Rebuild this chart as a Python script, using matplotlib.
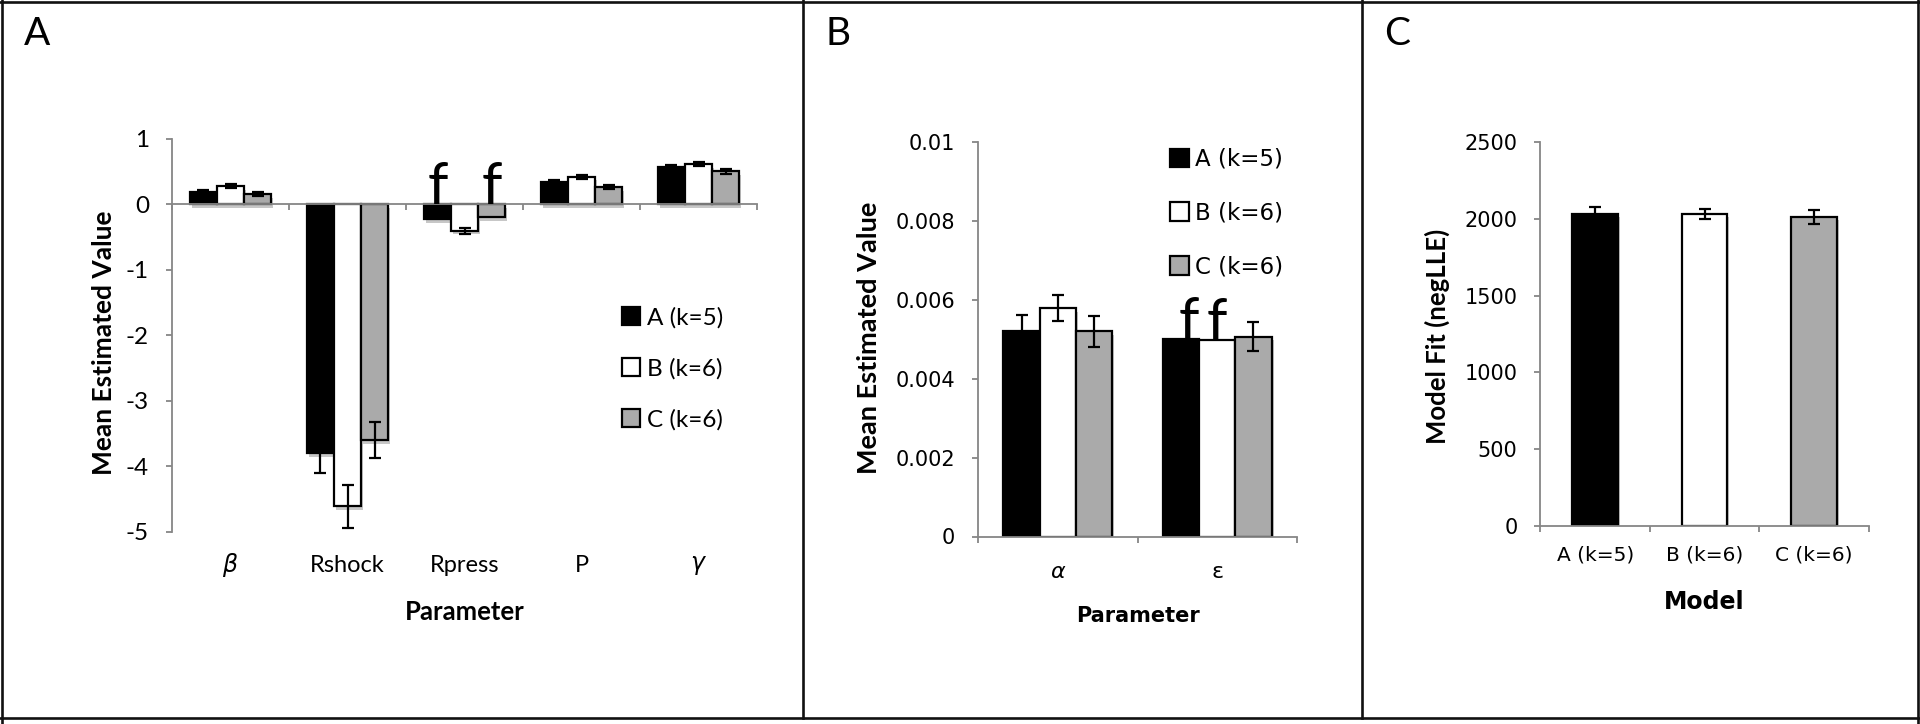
import numpy as np
import matplotlib
matplotlib.use('Agg')
import matplotlib.pyplot as plt
from matplotlib import patheffects as pe
from matplotlib.lines import Line2D
from matplotlib.patches import Patch
from matplotlib.transforms import blended_transform_factory

plt.rcParams['axes.unicode_minus'] = False

# ---------------- data ----------------
models = ['A (k=5)', 'B (k=6)', 'C (k=6)']
colors = ['#000000', '#ffffff', '#aaaaaa']

params_a = [r'$\beta$', 'Rshock', 'Rpress', 'P', r'$\gamma$']
a_mean_A = [0.19, -3.80, -0.23, 0.33, 0.56]
a_mean_B = [0.27, -4.61, -0.41, 0.42, 0.61]
a_mean_C = [0.15, -3.60, -0.20, 0.26, 0.50]
a_err_A = [0.03, 0.30, np.nan, 0.03, 0.03]
a_err_B = [0.03, 0.33, 0.04, 0.03, 0.03]
a_err_C = [0.03, 0.27, np.nan, 0.03, 0.04]
a_fixed = [(2, 0), (2, 2)]          # (parameter index, model index) marked 'f'
a_yticks = [-5, -4, -3, -2, -1, 0, 1]

params_b = [r'$\alpha$', 'ε']
b_mean_A = [0.00521, 0.00502]
b_mean_B = [0.00579, 0.00499]
b_mean_C = [0.00520, 0.00507]
b_err_A = [0.00040, np.nan]
b_err_B = [0.00033, np.nan]
b_err_C = [0.00040, 0.00036]
b_fixed = [(1, 0), (1, 1)]
b_yticks = [0, 0.002, 0.004, 0.006, 0.008, 0.01]
b_yticklabels = ['0', '0.002', '0.004', '0.006', '0.008', '0.01']

fit_mean = [2032, 2030, 2012]
fit_err = [45, 35, 45]
c_yticks = [0, 500, 1000, 1500, 2000, 2500]

# ---------------- style ----------------
W, H = 1920, 724
fig = plt.figure(figsize=(W / 100, H / 100), dpi=100)
AX_COL = '#868686'
NARROW = 'Lato'
WIDE = 'DejaVu Sans'
shadow = [pe.SimplePatchShadow(offset=(1.5, -2.5), shadow_rgbFace='#000000', alpha=0.22), pe.Normal()]


def px_axes(x0, x1, ytop, ybot):
    return fig.add_axes([x0 / W, 1 - ybot / H, (x1 - x0) / W, (ybot - ytop) / H])


def style_axes(ax, fontfamily, fontsize):
    for s in ('top', 'right'):
        ax.spines[s].set_visible(False)
    for s in ('left', 'bottom'):
        ax.spines[s].set_color(AX_COL)
        ax.spines[s].set_linewidth(1.3)
        ax.spines[s].set_zorder(4)
    ax.tick_params(axis='both', which='major', direction='out', length=4.5, width=1.3,
                   color=AX_COL, pad=12)
    ax.tick_params(axis='x', which='major', labelbottom=False)
    for lab in ax.get_yticklabels():
        lab.set_fontfamily(fontfamily)
        lab.set_fontsize(fontsize)


def grouped_bars(ax, means, errs, width):
    n = len(means[0])
    x = np.arange(n)
    offs = [-width, 0.0, width]
    for m in range(3):
        bars = ax.bar(x + offs[m], means[m], width, color=colors[m], edgecolor='black',
                      linewidth=1.6, zorder=2, label=models[m])
        for b in bars:
            b.set_path_effects(shadow)
        ax.errorbar(x + offs[m], means[m], yerr=errs[m], fmt='none', ecolor='black',
                    elinewidth=1.6, capsize=4.3, capthick=1.6, zorder=3)
    return x, offs


legend_handles = [Patch(facecolor=c, edgecolor='black', linewidth=1.6) for c in colors]

# ---------------- panel A ----------------
axA = px_axes(172, 757, 138.5, 532)
means_a = [a_mean_A, a_mean_B, a_mean_C]
xa, offa = grouped_bars(axA, means_a, [a_err_A, a_err_B, a_err_C], 0.231)
axA.set_xlim(-0.5, len(params_a) - 0.5)
axA.set_ylim(-5, 1)
axA.set_yticks(a_yticks)
axA.set_yticklabels([str(v) for v in a_yticks])
axA.set_xticks(np.arange(len(params_a) + 1) - 0.5)
axA.spines['bottom'].set_position(('data', 0))
style_axes(axA, NARROW, 17.5)
tr = blended_transform_factory(axA.transData, axA.transAxes)
for i, p in enumerate(params_a):
    axA.text(xa[i], -0.085, p, transform=tr, ha='center', va='center',
             fontsize=17, family=NARROW)
for (i, m) in a_fixed:
    axA.text(xa[i] + offa[m], 0, 'f', ha='center', va='baseline', fontsize=42,
             family=NARROW, zorder=5)
axA.set_ylabel('Mean Estimated Value', fontsize=19, fontweight='bold', family=NARROW, va='center')
axA.yaxis.set_label_coords(-0.1162, 0.480)
axA.set_xlabel('Parameter', fontsize=18.5, fontweight='bold', family=NARROW, va='center')
axA.xaxis.set_label_coords(0.5009, -0.203)
axA.legend(legend_handles, models, loc='upper left', bbox_to_anchor=(622 / W, 1 - 307 / H),
           bbox_transform=fig.transFigure, frameon=False, borderpad=0, borderaxespad=0,
           handlelength=0.74, handleheight=0.76, handletextpad=0.3, labelspacing=1.21,
           prop={'family': NARROW, 'size': 17.5})

# ---------------- panel B ----------------
axB = px_axes(978, 1297, 142.2, 536.5)
means_b = [b_mean_A, b_mean_B, b_mean_C]
xb, offb = grouped_bars(axB, means_b, [b_err_A, b_err_B, b_err_C], 0.227)
axB.set_xlim(-0.5, len(params_b) - 0.5)
axB.set_ylim(0, 0.01)
axB.set_yticks(b_yticks)
axB.set_yticklabels(b_yticklabels)
axB.set_xticks(np.arange(len(params_b) + 1) - 0.5)
style_axes(axB, WIDE, 15)
axB.set_xticks(xb, minor=True)
axB.set_xticklabels(params_b, minor=True, fontsize=16, family=WIDE)
axB.tick_params(axis='x', which='minor', length=0, pad=18)
for (i, m) in b_fixed:
    axB.text(xb[i] + offb[m] + 0.05 * (m == 0), means_b[m][i], 'f', ha='center', va='baseline',
             fontsize=42, family=NARROW, zorder=5)
axB.set_ylabel('Mean Estimated Value', fontsize=19.5, fontweight='bold', family=NARROW, va='center')
axB.yaxis.set_label_coords(-0.3417, 0.503)
axB.set_xlabel('Parameter', fontsize=15, fontweight='bold', family=WIDE, va='center')
axB.xaxis.set_label_coords(0.5, -0.2016)
axB.legend(legend_handles, models, loc='upper left', bbox_to_anchor=(1170 / W, 1 - 147.8 / H),
           bbox_transform=fig.transFigure, frameon=False, borderpad=0, borderaxespad=0,
           handlelength=0.83, handleheight=0.87, handletextpad=0.24, labelspacing=1.34,
           prop={'family': WIDE, 'size': 16.5})

# ---------------- panel C ----------------
axC = px_axes(1540.4, 1868.9, 141.7, 526.3)
xc = np.arange(len(models))
barsC = axC.bar(xc, fit_mean, 0.415, color=colors, edgecolor='black', linewidth=1.6, zorder=2)
for b in barsC:
    b.set_path_effects(shadow)
axC.errorbar(xc, fit_mean, yerr=fit_err, fmt='none', ecolor='black', elinewidth=1.6,
             capsize=4.3, capthick=1.6, zorder=3)
axC.set_xlim(-0.5, len(models) - 0.5)
axC.set_ylim(0, 2500)
axC.set_yticks(c_yticks)
axC.set_yticklabels([str(v) for v in c_yticks])
axC.set_xticks(np.arange(len(models) + 1) - 0.5)
style_axes(axC, WIDE, 15)
axC.set_xticks(xc, minor=True)
axC.set_xticklabels(models, minor=True, fontsize=14.5, family=WIDE)
axC.tick_params(axis='x', which='minor', length=0, pad=14)
axC.set_ylabel('Model Fit (negLLE)', fontsize=18.5, fontweight='bold', family=NARROW, va='center')
axC.yaxis.set_label_coords(-0.3148, 0.495)
axC.set_xlabel('Model', fontsize=17, fontweight='bold', family=WIDE, va='center')
axC.xaxis.set_label_coords(0.5, -0.198)

# ---------------- panel letters & borders ----------------
for lx, lt in [(37.5, 'A'), (838, 'B'), (1397.5, 'C')]:
    fig.text(lx / W, 1 - 45 / H, lt, ha='center', va='baseline', fontsize=28, family=NARROW)

def fline(x0, y0, x1, y1):
    fig.add_artist(Line2D([x0 / W, x1 / W], [1 - y0 / H, 1 - y1 / H], color='#111111',
                          linewidth=1.9, transform=fig.transFigure))

fline(0, 1.5, W, 1.5)
fline(2, 0, 2, H)
fline(W - 2, 0, W - 2, H)
fline(0, 718, W, 718)
fline(803.3, 0, 803.3, 718)
fline(1361.7, 0, 1361.7, 718)

fig.savefig('out.png', dpi=100)
